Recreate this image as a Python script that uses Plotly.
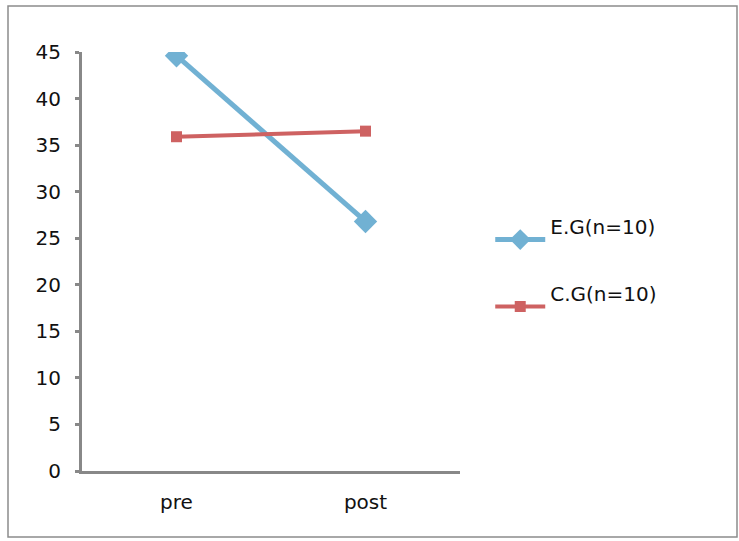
import plotly.graph_objects as go

categories = ["pre", "post"]
eg_values = [44.6, 26.8]
cg_values = [35.9, 36.5]
y_ticks = [0, 5, 10, 15, 20, 25, 30, 35, 40, 45]

FONT = "DejaVu Sans"
BLUE = "#71B1D3"
RED = "#CE6262"
AXIS = "#888888"

fig = go.Figure()
fig.add_trace(go.Scatter(
    x=categories, y=eg_values, name="E.G(n=10)<br> ", mode="lines+markers",
    line=dict(color=BLUE, width=5),
    marker=dict(symbol="diamond", size=18, color=BLUE),
    legendgroup="eg",
))
fig.add_trace(go.Scatter(
    x=categories, y=cg_values, name="C.G(n=10)<br> ", mode="lines+markers",
    line=dict(color=RED, width=4),
    marker=dict(symbol="square", size=11, color=RED),
    legendgroup="cg",
))

fig.update_layout(
    width=739, height=541,
    margin=dict(l=82, r=279, t=52, b=70),
    paper_bgcolor="white", plot_bgcolor="white",
    font=dict(family=FONT, size=19, color="#111111"),
    showlegend=True,
    legend=dict(x=1.08, y=0.63, xanchor="left", yanchor="top",
                font=dict(family=FONT, size=20, color="#111111"),
                tracegroupgap=12, itemwidth=50, valign="middle",
                bgcolor="rgba(0,0,0,0)"),
    xaxis=dict(type="category", range=[-0.5, 1.5], showgrid=False,
               showline=True, linecolor=AXIS, linewidth=3,
               ticks="", tickfont=dict(size=20), zeroline=False,
               ticklabelstandoff=11),
    yaxis=dict(range=[0, 45], tickvals=y_ticks, showgrid=False,
               showline=True, linecolor=AXIS, linewidth=3,
               ticks="outside", ticklen=4, tickwidth=3, tickcolor=AXIS,
               tickfont=dict(size=20), zeroline=False, ticklabelstandoff=10),
    shapes=[dict(type="rect", xref="paper", yref="paper",
                 x0=-74/378, x1=(737-82)/378, y0=-(537-471)/419, y1=(471-6)/419,
                 line=dict(color="#8c8c8c", width=1.5), fillcolor="rgba(0,0,0,0)",
                 layer="below")],
)

fig.write_html("out.html")
